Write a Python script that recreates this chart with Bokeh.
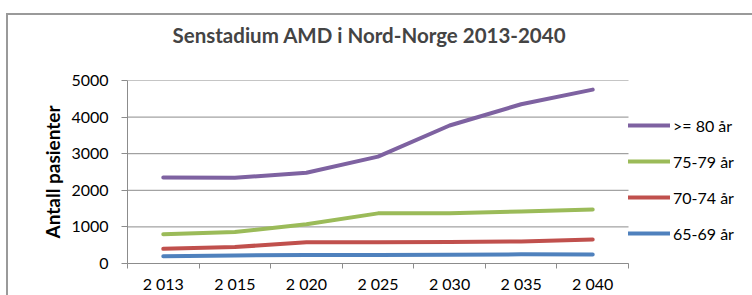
from bokeh.plotting import figure
from bokeh.models import (ColumnDataSource, FixedTicker, Legend, LegendItem,
                          Range1d)
from bokeh.embed import file_html
from bokeh.resources import INLINE

years = ["2 013", "2 015", "2 020", "2 025", "2 030", "2 035", "2 040"]
s80 = [2350, 2340, 2480, 2920, 3770, 4350, 4750]
s75 = [800, 860, 1070, 1370, 1370, 1420, 1475]
s70 = [400, 450, 580, 580, 590, 600, 655]
s65 = [200, 220, 230, 230, 240, 250, 245]
names = [">= 80 år", "75-79 år", "70-74 år", "65-69 år"]
colors = ["#7E62A1", "#9BBB59", "#C0504D", "#4F81BD"]
series = [s80, s75, s70, s65]
yticks = [0, 1000, 2000, 3000, 4000, 5000]

FONT = "Lato"
GRAY = "#8c8c8c"

W, H = 752, 295
LEFT, AXIS_W, TOP, BOTTOM = 127, 501, 80, 32
n = len(years)
xpos = [i + 0.5 for i in range(n)]
x_end = n * (W - LEFT) / AXIS_W   # frame runs on to the right edge (legend room)

p = figure(width=W, height=H, output_backend="svg", toolbar_location=None,
           x_range=Range1d(0, x_end), y_range=Range1d(0, 5000),
           min_border_left=LEFT, min_border_right=0, min_border_top=TOP,
           min_border_bottom=BOTTOM)
p.outline_line_color = None
p.background_fill_color = "white"
p.border_fill_color = None
p.styles = {
    "background": "linear-gradient(#9a9a9a,#9a9a9a) 6px 13px / 100% 2px no-repeat, "
                  "linear-gradient(#9a9a9a,#9a9a9a) 6px 13px / 2px 100% no-repeat, white"
}

p.title.text = "Senstadium AMD i Nord-Norge 2013-2040"
p.title.text_font = FONT
p.title.text_font_size = "20.5px"
p.title.text_font_style = "bold"
p.title.align = "left"
p.title.offset = 45
p.title.vertical_align = "top"
p.title.standoff = 10
p.title.padding = (0, 0, 0, 27)

# horizontal grid lines, only across the category span
p.segment(x0=0, x1=n, y0=yticks, y1=yticks, line_color=GRAY, line_width=1)

items = []
for name, col, vals in zip(names, colors, series):
    src = ColumnDataSource(dict(x=xpos, y=vals))
    r = p.line("x", "y", source=src, line_color=col, line_width=4,
               line_cap="round", line_join="round")
    items.append(LegendItem(label=name, renderers=[r]))

# x axis
xa = p.xaxis[0]
xa.bounds = (0, n)
xa.ticker = FixedTicker(ticks=xpos, minor_ticks=list(range(n + 1)))
xa.major_label_overrides = {x: y for x, y in zip(xpos, years)}
xa.major_tick_out = 0
xa.major_tick_in = 0
xa.minor_tick_out = 5
xa.minor_tick_in = 0
xa.minor_tick_line_color = GRAY
xa.axis_line_color = GRAY
xa.major_label_text_font = FONT
xa.major_label_text_font_size = "16px"
xa.major_label_text_color = "black"
xa.major_label_standoff = 5

ya = p.yaxis[0]
ya.ticker = FixedTicker(ticks=yticks)
ya.major_tick_out = 6
ya.major_tick_in = 0
ya.minor_tick_out = 0
ya.minor_tick_in = 0
ya.major_tick_line_color = GRAY
ya.axis_line_color = GRAY
ya.major_label_text_font = FONT
ya.major_label_text_font_size = "16px"
ya.major_label_text_color = "black"
ya.major_label_standoff = 13
ya.axis_label = "Antall pasienter"
ya.axis_label_text_font = FONT
ya.axis_label_text_font_size = "19px"
ya.axis_label_text_font_style = "bold"
ya.axis_label_text_color = "black"
ya.axis_label_standoff = 4

p.xgrid.grid_line_color = None
p.ygrid.grid_line_color = None

legend = Legend(items=items, location=(AXIS_W, 12), padding=0, margin=0,
                border_line_color=None, background_fill_alpha=0,
                glyph_width=42, glyph_height=36, label_height=36, spacing=0,
                label_standoff=3, label_text_font=FONT,
                label_text_font_size="16px", label_text_color="black")
p.add_layout(legend, "center")

open("out.html", "w").write(file_html(p, INLINE))
